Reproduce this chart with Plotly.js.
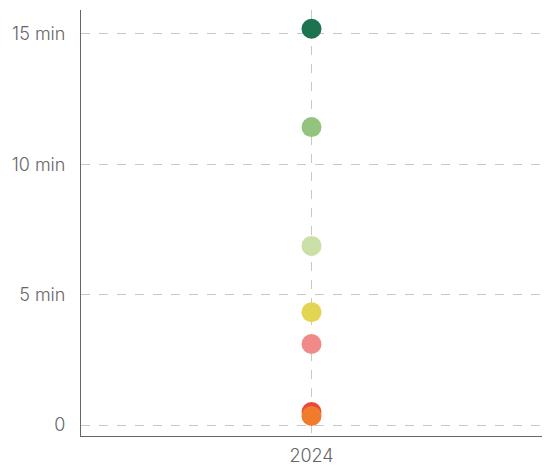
<!DOCTYPE html>
<html>
<head>
<meta charset="utf-8">
<script src="https://cdn.plot.ly/plotly-3.0.1.min.js"></script>
<style>html,body{margin:0;padding:0;background:#fff;}#chart{width:544px;height:466px;}</style>
</head>
<body>
<div id="chart"></div>
<script>
const years = ["2024"];
const seriesNames = ["A", "B", "C", "D", "E", "F", "G"];
const seriesValues = [15.2, 11.43, 6.87, 4.33, 3.11, 0.5, 0.35];
const seriesColors = ["#1b7350", "#93c47d", "#cbdfa8", "#e2d553", "#f08a88", "#e9493a", "#f07b2d"];
const tickValues = [0, 5, 10, 15];
const tickLabels = ["0", "5 min", "10 min", "15 min"];

const traces = seriesNames.map((name, i) => ({
  type: "scatter",
  mode: "markers",
  name: name,
  x: years,
  y: [seriesValues[i]],
  marker: { size: 20, color: seriesColors[i], line: { width: 0 } },
  showlegend: false,
  hoverinfo: "y"
}));

const tickFont = { family: "Inter, 'Open Sans', sans-serif", size: 18, color: "#666", weight: 300 };

const layout = {
  width: 544,
  height: 466,
  margin: { l: 81, r: 2, t: 10, b: 30 },
  paper_bgcolor: "#fff",
  plot_bgcolor: "#fff",
  font: { family: "Inter, 'Open Sans', sans-serif", size: 18, color: "#666" },
  xaxis: {
    type: "category",
    range: [-0.5, 0.5],
    showgrid: true,
    gridcolor: "#c8c8c8",
    griddash: "dash",
    gridwidth: 1,
    showline: true,
    linecolor: "#666",
    linewidth: 1,
    ticks: "",
    zeroline: false,
    ticklabelstandoff: 3,
    tickfont: tickFont
  },
  yaxis: {
    range: [-0.42, 15.92],
    tickvals: tickValues,
    ticktext: tickLabels,
    showgrid: true,
    gridcolor: "#c8c8c8",
    griddash: "dash",
    gridwidth: 1,
    showline: true,
    linecolor: "#666",
    linewidth: 1,
    zeroline: false,
    ticks: "",
    ticklabelstandoff: 11,
    tickfont: tickFont
  }
};

Plotly.newPlot("chart", traces, layout, { displayModeBar: false, staticPlot: true });
</script>
</body>
</html>
